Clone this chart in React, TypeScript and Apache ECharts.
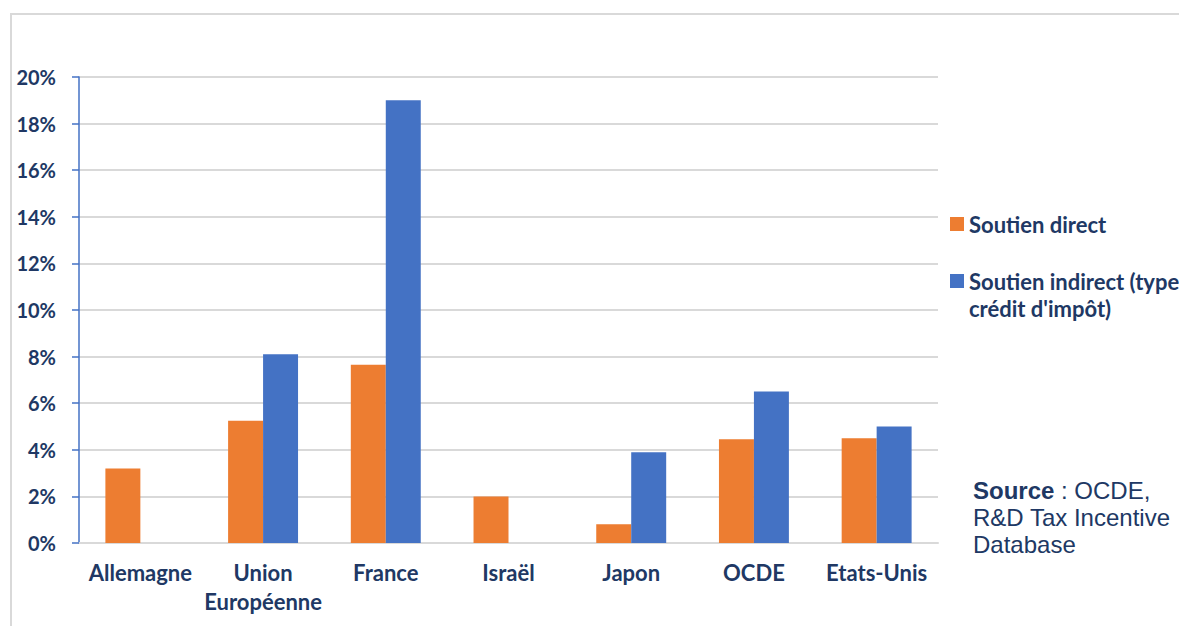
import React, { useEffect, useRef } from "react";
import * as echarts from "echarts";

const categories = ["Allemagne", "Union\nEuropéenne", "France", "Israël", "Japon", "OCDE", "Etats-Unis"];
const directValues = [3.2, 5.25, 7.65, 2.0, 0.8, 4.45, 4.5];
const indirectValues = [null, 8.1, 19.0, null, 3.9, 6.5, 5.0];
const seriesNames = ["Soutien direct", "Soutien indirect (type\ncrédit d'impôt)"];
const yTicks = { min: 0, max: 20, interval: 2 };

const NAVY = "#203864";
const FONT = "Lato, 'Noto Sans', sans-serif";
const SRC_FONT = "'Liberation Sans', Arial, sans-serif";

export default function App() {
  const ref = useRef<HTMLDivElement>(null);
  useEffect(() => {
    if (!ref.current) return;
    const chart = echarts.init(ref.current, null, { renderer: "svg" });
    chart.setOption({
      animation: false,
      backgroundColor: "#ffffff",
      grid: { left: 79, right: 241, top: 77, bottom: 83, containLabel: false },
      xAxis: {
        type: "category",
        data: categories,
        axisLine: { show: true, lineStyle: { color: "#D9D9D9", width: 2 } },
        axisTick: { show: false },
        axisLabel: {
          color: NAVY,
          fontFamily: FONT,
          fontWeight: "bold",
          fontSize: 22,
          lineHeight: 29,
          margin: 15,
          interval: 0,
        },
      },
      yAxis: {
        type: "value",
        min: yTicks.min,
        max: yTicks.max,
        interval: yTicks.interval,
        axisLine: { show: true, lineStyle: { color: "#4472C4", width: 1.5 } },
        axisTick: { show: true, length: 7, lineStyle: { color: "#4472C4", width: 1.5 } },
        splitLine: { show: true, lineStyle: { color: "#D9D9D9", width: 2 } },
        axisLabel: {
          formatter: "{value}%",
          color: NAVY,
          fontFamily: FONT,
          fontWeight: "bold",
          fontSize: 20,
          margin: 23,
        },
      },
      legend: [
        {
          data: [seriesNames[0]],
          orient: "vertical",
          left: 950,
          top: 210.5,
          padding: 0,
          icon: "rect",
          itemWidth: 14,
          itemHeight: 14,
          itemGap: 5,
          selectedMode: false,
          textStyle: { color: NAVY, fontFamily: FONT, fontWeight: "bold", fontSize: 22, lineHeight: 27 },
        },
        {
          data: [seriesNames[1]],
          orient: "vertical",
          left: 950,
          top: 240.5,
          padding: 0,
          icon: "rect",
          itemWidth: 14,
          itemHeight: 14,
          selectedMode: false,
          formatter: (name: string) => "\n" + name,
          textStyle: { color: NAVY, fontFamily: FONT, fontWeight: "bold", fontSize: 22, lineHeight: 27 },
        },
      ],
      graphic: [
        {
          type: "rect",
          shape: { x: 11, y: 14, width: 1400, height: 800 },
          style: { fill: "none", stroke: "#D9D9D9", lineWidth: 2 },
          silent: true,
          z: -10,
        },
        {
          type: "text",
          left: 973,
          top: 476.5,
          style: {
            text: "{b|Source}{r| : OCDE,}\n{r|R&D Tax Incentive}\n{r|Database}",
            fill: NAVY,
            fontSize: 24,
            fontFamily: SRC_FONT,
            lineHeight: 27,
            rich: {
              b: { fontWeight: "bold", fontSize: 24, fontFamily: SRC_FONT, fill: NAVY, lineHeight: 27 },
              r: { fontWeight: "normal", fontSize: 24, fontFamily: SRC_FONT, fill: NAVY, lineHeight: 27 },
            },
          },
        },
      ],
      series: [
        {
          name: seriesNames[0],
          type: "bar",
          data: directValues,
          itemStyle: { color: "#ED7D31" },
          barGap: "0%",
          barCategoryGap: "43%",
        },
        {
          name: seriesNames[1],
          type: "bar",
          data: indirectValues,
          itemStyle: { color: "#4472C4" },
          barGap: "0%",
          barCategoryGap: "43%",
        },
      ],
    });
    return () => chart.dispose();
  }, []);
  return <div ref={ref} style={{ position: "absolute", left: 0, top: 0, width: 1179, height: 626 }} />;
}
